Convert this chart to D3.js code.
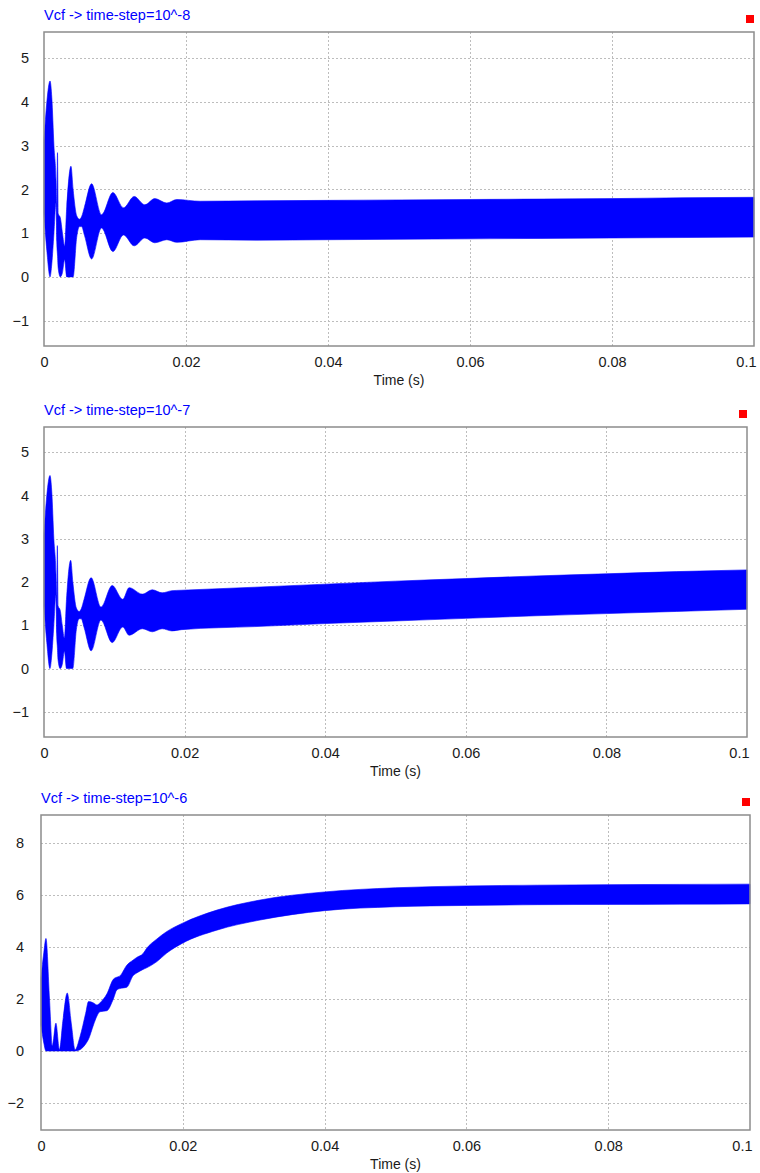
<!DOCTYPE html>
<html>
<head>
<meta charset="utf-8">
<script src="https://cdn.jsdelivr.net/npm/d3@7"></script>
<style>
  body { margin: 0; background: #fff; }
  svg text { font-family: "Liberation Sans", Arial, sans-serif; }
</style>
</head>
<body>
<div id="chart"></div>
<script>
// envelope of Vcf (upper / lower edge of the fast ripple), time in s
var time1 = [0, 0.0004, 0.00085, 0.0011, 0.0014, 0.0017, 0.0018, 0.0019, 0.0020, 0.0023, 0.0026, 0.0029, 0.0032, 0.0038, 0.0041, 0.0046, 0.0050, 0.0053, 0.0057, 0.0067, 0.0081, 0.0097, 0.0112, 0.0127, 0.0142, 0.0156, 0.0173, 0.0187, 0.022, 0.03, 0.04, 0.05, 0.06, 0.07, 0.08, 0.09, 0.1];
var upper1 = [3.1, 4.0, 4.48, 4.1, 3.0, 2.2, 1.6, 2.84, 1.45, 1.35, 1.0, 0.7, 1.6, 2.53, 2.0, 1.4, 1.32, 1.38, 1.6, 2.13, 1.42, 1.93, 1.58, 1.84, 1.65, 1.79, 1.69, 1.77, 1.73, 1.74, 1.75, 1.76, 1.77, 1.78, 1.79, 1.81, 1.82];
var lower1 = [1.45, 0.6, 0.0, 0.3, 1.0, 1.7, 0.8, 0.5, 0.2, 0.0, 0.1, 0.4, 0.0, 0.0, 0.0, 0.9, 1.15, 1.15, 0.95, 0.41, 1.12, 0.58, 0.96, 0.71, 0.89, 0.78, 0.85, 0.79, 0.85, 0.84, 0.85, 0.86, 0.87, 0.88, 0.89, 0.9, 0.91];

var time2 = [0, 0.0004, 0.00085, 0.0011, 0.0014, 0.0017, 0.0018, 0.0019, 0.0020, 0.0023, 0.0026, 0.0029, 0.0032, 0.0038, 0.0041, 0.0046, 0.0050, 0.0053, 0.0057, 0.0067, 0.0081, 0.0097, 0.0112, 0.0121, 0.014, 0.0154, 0.0168, 0.0182, 0.0196, 0.03, 0.04, 0.05, 0.06, 0.07, 0.08, 0.09, 0.1];
var upper2 = [3.1, 4.0, 4.46, 4.1, 3.0, 2.2, 1.6, 2.84, 1.45, 1.35, 1.0, 0.7, 1.6, 2.5, 2.0, 1.4, 1.32, 1.38, 1.6, 2.1, 1.42, 1.92, 1.6, 1.87, 1.72, 1.82, 1.75, 1.8, 1.81, 1.88, 1.95, 2.02, 2.08, 2.14, 2.19, 2.24, 2.28];
var lower2 = [1.45, 0.6, 0.0, 0.3, 1.0, 1.7, 0.8, 0.5, 0.2, 0.0, 0.1, 0.4, 0.0, 0.0, 0.0, 0.9, 1.15, 1.15, 0.95, 0.41, 1.12, 0.6, 0.96, 0.77, 0.92, 0.85, 0.92, 0.87, 0.9, 0.97, 1.04, 1.1, 1.16, 1.22, 1.27, 1.32, 1.37];

var time3 = [0, 0.0004, 0.0007, 0.0012, 0.0016, 0.0021, 0.0026, 0.0031, 0.0037, 0.0043, 0.0048, 0.0055, 0.0063, 0.0067, 0.0074, 0.0079, 0.0083, 0.0093, 0.0102, 0.0107, 0.0111, 0.0121, 0.013, 0.0135, 0.0144, 0.0149, 0.0163, 0.0177, 0.0199, 0.0248, 0.0309, 0.04, 0.05, 0.06, 0.07, 0.08, 0.09, 0.1];
var upper3 = [2.8, 3.8, 4.33, 2.0, 0.2, 1.07, 0.05, 1.2, 2.23, 1.0, 0.05, 0.55, 1.45, 1.9, 1.85, 1.77, 1.85, 2.2, 2.76, 2.84, 2.88, 3.3, 3.5, 3.6, 3.75, 3.95, 4.3, 4.59, 4.91, 5.42, 5.81, 6.12, 6.28, 6.35, 6.38, 6.4, 6.41, 6.42];
var lower3 = [1.0, 0.3, 0.0, 0.0, 0.0, 0.0, 0.0, 0.0, 0.0, 0.0, 0.0, 0.05, 0.27, 0.45, 1.0, 1.35, 1.51, 1.55, 2.0, 2.35, 2.4, 2.45, 2.9, 3.0, 3.14, 3.2, 3.43, 3.76, 4.14, 4.65, 5.04, 5.4, 5.55, 5.6, 5.63, 5.64, 5.65, 5.66];

var titles = ["Vcf -> time-step=10^-8", "Vcf -> time-step=10^-7", "Vcf -> time-step=10^-6"];
var xTicks = [0, 0.02, 0.04, 0.06, 0.08, 0.1];
var yTicks12 = [-1, 0, 1, 2, 3, 4, 5];
var yTicks3 = [-2, 0, 2, 4, 6, 8];

var svg = d3.select("#chart").append("svg")
    .attr("width", 760)
    .attr("height", 1173);

function drawPanel(opt) {
    var margin = opt.margin;
    var width = opt.right - margin.left,
        height = opt.bottom - margin.top;

    var canvas = svg.append("g")
        .attr("transform", "translate(" + margin.left + ", " + margin.top + ")");

    var xScale = d3.scaleLinear()
        .domain([0, 0.1])
        .range([0, width]);

    var yScale = d3.scaleLinear()
        .domain(opt.yDomain)
        .range([height, 0]);

    // dotted grid
    canvas.append("g")
        .selectAll("line")
        .data(opt.yTicks)
        .enter().append("line")
        .attr("x1", 0)
        .attr("x2", width)
        .attr("y1", function (d) { return Math.round(yScale(d)) + 0.5; })
        .attr("y2", function (d) { return Math.round(yScale(d)) + 0.5; })
        .attr("stroke", "#bdbdbd")
        .attr("stroke-dasharray", "2,2");

    canvas.append("g")
        .selectAll("line")
        .data(xTicks.slice(1, -1))
        .enter().append("line")
        .attr("x1", function (d) { return Math.round(xScale(d)) + 0.5; })
        .attr("x2", function (d) { return Math.round(xScale(d)) + 0.5; })
        .attr("y1", 0)
        .attr("y2", height)
        .attr("stroke", "#bdbdbd")
        .attr("stroke-dasharray", "2,2");

    var rows = opt.time.map(function (t, i) {
        return { t: t, hi: opt.upper[i], lo: opt.lower[i] };
    });

    var area = d3.area()
        .curve(d3.curveMonotoneX)
        .x(function (d) { return xScale(d.t); })
        .y0(function (d) { return yScale(d.lo); })
        .y1(function (d) { return yScale(d.hi); });

    canvas.append("path")
        .datum(rows)
        .attr("d", area)
        .attr("fill", "#0000ff")
        .attr("stroke", "#0000ff")
        .attr("stroke-width", 0.6);

    // frame
    canvas.append("rect")
        .attr("x", 0)
        .attr("y", 0)
        .attr("width", width)
        .attr("height", height)
        .attr("fill", "none")
        .attr("stroke", "#8c8c8c")
        .attr("stroke-width", 1.5);

    var yAxis = d3.axisLeft(yScale)
        .tickValues(opt.yTicks)
        .tickSize(0)
        .tickPadding(opt.yPad)
        .tickFormat(d3.format("d"));

    var yg = canvas.append("g").call(yAxis);
    yg.select(".domain").remove();
    yg.selectAll("text")
        .attr("font-size", 14.5)
        .attr("fill", "#1a1a1a");

    var xAxis = d3.axisBottom(xScale)
        .tickValues(xTicks)
        .tickSize(0)
        .tickPadding(11)
        .tickFormat(function (d) { return d === 0 ? "0" : String(+d.toFixed(2)); });

    var xg = canvas.append("g")
        .attr("transform", "translate(0, " + height + ")")
        .call(xAxis);
    xg.select(".domain").remove();
    xg.selectAll("text")
        .attr("font-size", 14.5)
        .attr("fill", "#1a1a1a")
        .attr("text-anchor", function (d) { return d === 0.1 ? "end" : "middle"; })
        .attr("dx", function (d) { return d === 0.1 ? 2 : 0; });

    canvas.append("text")
        .attr("x", width / 2)
        .attr("y", height + 39)
        .attr("text-anchor", "middle")
        .attr("font-size", 14)
        .attr("fill", "#1a1a1a")
        .text("Time (s)");

    canvas.append("text")
        .attr("x", 0)
        .attr("y", -12)
        .attr("font-size", 14.5)
        .attr("fill", "#0000ff")
        .text(opt.title);

    canvas.append("rect")
        .attr("x", width - 8)
        .attr("y", -17)
        .attr("width", 8)
        .attr("height", 8)
        .attr("fill", "#ff0000");
}

drawPanel({
    margin: { left: 44, top: 32 }, right: 754, bottom: 346,
    yDomain: [-1.58, 5.6], yTicks: yTicks12, yPad: 15,
    time: time1, upper: upper1, lower: lower1, title: titles[0]
});

drawPanel({
    margin: { left: 44, top: 427 }, right: 747, bottom: 737,
    yDomain: [-1.58, 5.58], yTicks: yTicks12, yPad: 15,
    time: time2, upper: upper2, lower: lower2, title: titles[1]
});

drawPanel({
    margin: { left: 41, top: 815 }, right: 750, bottom: 1130,
    yDomain: [-3.04, 9.08], yTicks: yTicks3, yPad: 17,
    time: time3, upper: upper3, lower: lower3, title: titles[2]
});
</script>
</body>
</html>
